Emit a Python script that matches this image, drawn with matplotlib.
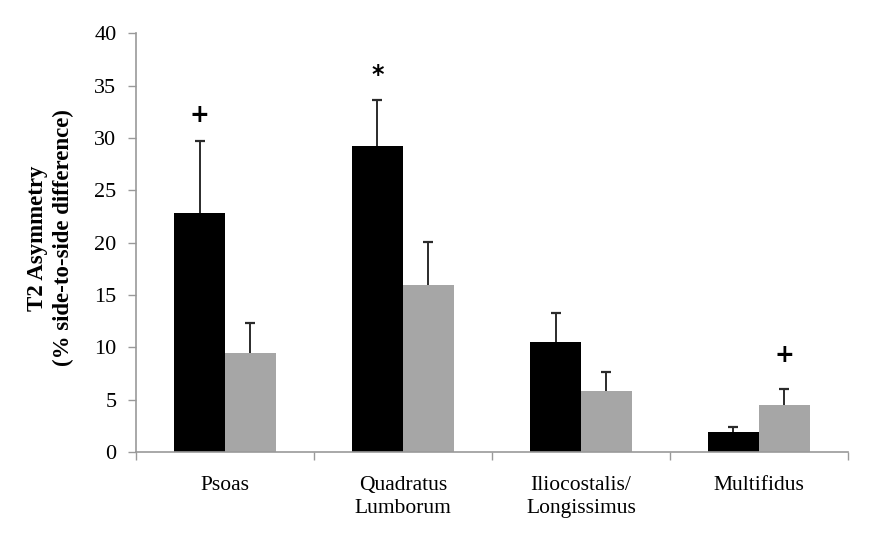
import matplotlib
matplotlib.use("Agg")
import matplotlib.pyplot as plt
import numpy as np

categories = ["Psoas", "Quadratus\nLumborum", "Iliocostalis/\nLongissimus", "Multifidus"]
black_vals = [22.8, 29.2, 10.5, 1.9]
black_err = [6.9, 4.4, 2.8, 0.45]
gray_vals = [9.5, 16.0, 5.8, 4.5]
gray_err = [2.8, 4.1, 1.8, 1.5]
y_ticks = [0, 5, 10, 15, 20, 25, 30, 35, 40]
# significance markers: (category index, series, symbol, y value)
markers = [(0, "black", "+", 32.2), (1, "black", "*", 36.0), (3, "gray", "+", 9.3)]

serif = ["Liberation Serif", "DejaVu Serif"]

fig = plt.figure(figsize=(8.79, 5.39), dpi=100)
ax = fig.add_axes([136/879, 1-452/539, (848-136)/879, (452-33.3)/539])

n = len(categories)
centers = np.arange(n) + 0.5
w = 51/178

ecol = "#2b2b2b"
for xs, vals, errs, col in [(centers - w/2, black_vals, black_err, "black"),
                            (centers + w/2, gray_vals, gray_err, "#a6a6a6")]:
    ax.bar(xs, vals, w, color=col, zorder=2)
    tops = np.array(vals) + np.array(errs)
    ax.vlines(xs, vals, tops, color=ecol, linewidth=1.4, zorder=1)
    ax.scatter(xs, tops, marker="_", s=60, color=ecol, linewidths=1.6, zorder=1)

for idx, series, sym, yv in markers:
    x = centers[idx] + (-w/2 if series == "black" else w/2)
    ax.text(x, yv, sym, ha="center", va="center", fontsize=17, fontweight="bold", family="DejaVu Sans")

ax.set_xlim(0, n)
ax.set_ylim(0, 40)
ax.set_yticks(y_ticks)
ax.set_yticklabels([str(t) for t in y_ticks], family=serif, fontsize=16)

ax.set_xticks(np.arange(n+1))
ax.set_xticklabels([])
ax.set_xticks(centers, minor=True)
ax.set_xticklabels(categories, minor=True, family=serif, fontsize=15.5, linespacing=1.3, va="top")
ax.tick_params(axis="x", which="minor", length=0, pad=17)
ax.tick_params(axis="x", which="major", length=6, direction="out", color="#999999", width=1)
ax.tick_params(axis="y", length=6, direction="out", color="#999999", width=1, pad=8)

for s in ["top", "right"]:
    ax.spines[s].set_visible(False)
for s in ["left", "bottom"]:
    ax.spines[s].set_color("#999999")
    ax.spines[s].set_linewidth(1.2)

fig.text(51/879, 1-238/539, "T2 Asymmetry\n(% side-to-side difference)", rotation=90,
         ha="center", va="center", family=serif, fontsize=16.5, fontweight="bold", linespacing=1.3)

fig.savefig("out.png", dpi=100)
